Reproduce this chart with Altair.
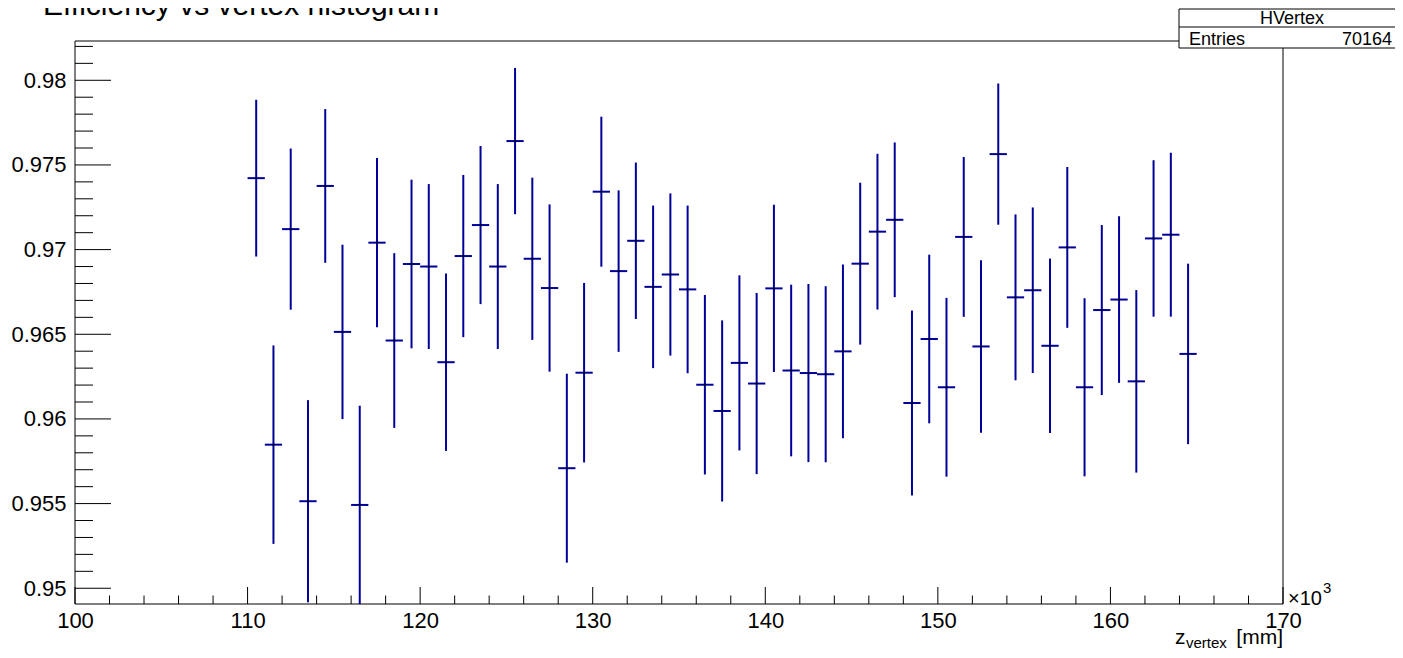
import altair as alt
import pandas as pd

# ---- data (bin centres in units of 10^3 mm) ----
bin_centers = [110.5, 111.5, 112.5, 113.5, 114.5, 115.5, 116.5, 117.5, 118.5, 119.5,
               120.5, 121.5, 122.5, 123.5, 124.5, 125.5, 126.5, 127.5, 128.5, 129.5,
               130.5, 131.5, 132.5, 133.5, 134.5, 135.5, 136.5, 137.5, 138.5, 139.5,
               140.5, 141.5, 142.5, 143.5, 144.5, 145.5, 146.5, 147.5, 148.5, 149.5,
               150.5, 151.5, 152.5, 153.5, 154.5, 155.5, 156.5, 157.5, 158.5, 159.5,
               160.5, 161.5, 162.5, 163.5, 164.5]
efficiency = [0.97422, 0.95848, 0.97121, 0.95514, 0.97376, 0.96514, 0.95492, 0.97041, 0.96463, 0.96915,
              0.96900, 0.96335, 0.96962, 0.97145, 0.96900, 0.97641, 0.96946, 0.96773, 0.95709, 0.96273,
              0.97342, 0.96873, 0.97052, 0.96780, 0.96853, 0.96765, 0.96202, 0.96047, 0.96331, 0.96209,
              0.96771, 0.96286, 0.96271, 0.96264, 0.96399, 0.96917, 0.97106, 0.97176, 0.96094, 0.96472,
              0.96187, 0.97075, 0.96428, 0.97564, 0.96718, 0.96760, 0.96432, 0.97013, 0.96187, 0.96643,
              0.96705, 0.96222, 0.97066, 0.97088, 0.96384]
error = [0.00463, 0.00586, 0.00476, 0.00597, 0.00454, 0.00515, 0.00586, 0.00500, 0.00516, 0.00498,
         0.00487, 0.00524, 0.00479, 0.00467, 0.00487, 0.00432, 0.00479, 0.00494, 0.00558, 0.00530,
         0.00443, 0.00477, 0.00462, 0.00480, 0.00479, 0.00495, 0.00530, 0.00535, 0.00517, 0.00535,
         0.00494, 0.00507, 0.00526, 0.00520, 0.00513, 0.00478, 0.00460, 0.00457, 0.00546, 0.00498,
         0.00528, 0.00472, 0.00509, 0.00417, 0.00490, 0.00489, 0.00515, 0.00475, 0.00526, 0.00502,
         0.00492, 0.00539, 0.00462, 0.00484, 0.00533]
bin_width = 1.0

x_major = [100, 110, 120, 130, 140, 150, 160, 170]
x_minor = [v for v in range(102, 170, 2) if v % 10 != 0]
y_major = [0.95, 0.955, 0.96, 0.965, 0.97, 0.975, 0.98]
y_minor = [round(0.949 + 0.001 * i, 3) for i in range(1, 34)]
y_minor = [v for v in y_minor if round(v * 1000) % 5 != 0 and v <= 0.9823]

title_text = ["Efficiency vs vertex histogram"]
stats_name = ["HVertex"]
stats_label = ["Entries"]
stats_value = ["70164"]
axis_title_main = ["z"]
axis_title_sub = ["vertex"]
axis_title_unit = ["[mm]"]
exp_base = ["\u00d710"]
exp_power = ["3"]

# ---- layout ----
W, H = 1208, 563
FONT = "Liberation Sans"
BLUE = "#000099"

df = pd.DataFrame({"z": bin_centers, "eff": efficiency, "err": error})
df["lo"] = df["eff"] - df["err"]
df["hi"] = df["eff"] + df["err"]
df["zlo"] = df["z"] - bin_width / 2
df["zhi"] = df["z"] + bin_width / 2

XS = alt.Scale(domain=[100, 170], nice=False, zero=False)
YS = alt.Scale(domain=[0.94907, 0.98232], nice=False, zero=False)

x_axis = alt.Axis(values=x_major, format="d", ticks=False, domain=False, grid=False,
                  labelFontSize=22, labelFont=FONT, labelColor="black", labelPadding=6,
                  labelFlush=False, labelOverlap=False, title=None)
y_axis = alt.Axis(values=y_major, format=".3~f", ticks=False, domain=False, grid=False,
                  labelFontSize=22, labelFont=FONT, labelColor="black", labelPadding=9,
                  labelOverlap=False, title=None)

one = pd.DataFrame({"a": [0]})

frame = alt.Chart(one).mark_rect(fillOpacity=0, stroke="black", strokeWidth=1).encode(
    x=alt.value(0), x2=alt.value(W), y=alt.value(0), y2=alt.value(H))

yt_major = alt.Chart(pd.DataFrame({"v": y_major})).mark_rule(color="black", strokeWidth=1).encode(
    y=alt.Y("v:Q", scale=YS, axis=y_axis), x=alt.value(0), x2=alt.value(36))
yt_minor = alt.Chart(pd.DataFrame({"v": y_minor})).mark_rule(color="black", strokeWidth=1).encode(
    y=alt.Y("v:Q", scale=YS, axis=y_axis), x=alt.value(0), x2=alt.value(18))
xt_major = alt.Chart(pd.DataFrame({"v": x_major})).mark_rule(color="black", strokeWidth=1).encode(
    x=alt.X("v:Q", scale=XS, axis=x_axis), y=alt.value(H), y2=alt.value(H - 17))
xt_minor = alt.Chart(pd.DataFrame({"v": x_minor})).mark_rule(color="black", strokeWidth=1).encode(
    x=alt.X("v:Q", scale=XS, axis=x_axis), y=alt.value(H), y2=alt.value(H - 8.5))

err_v = alt.Chart(df).mark_rule(clip=True, color=BLUE, strokeWidth=2).encode(
    x=alt.X("z:Q", scale=XS, axis=x_axis),
    y=alt.Y("lo:Q", scale=YS, axis=y_axis), y2="hi:Q")
err_h = alt.Chart(df).mark_rule(clip=True, color=BLUE, strokeWidth=2).encode(
    x=alt.X("zlo:Q", scale=XS, axis=x_axis), x2="zhi:Q",
    y=alt.Y("eff:Q", scale=YS, axis=y_axis))
dots = alt.Chart(df).mark_square(size=3, color="black", opacity=1).encode(
    x=alt.X("z:Q", scale=XS, axis=x_axis), y=alt.Y("eff:Q", scale=YS, axis=y_axis))

stats_box = alt.Chart(one).mark_rect(fill="white", stroke="black", strokeWidth=1).encode(
    x=alt.value(1104), x2=alt.value(1400), y=alt.value(-32), y2=alt.value(7))
stats_sep = alt.Chart(one).mark_rule(color="black", strokeWidth=1).encode(
    x=alt.value(1104), x2=alt.value(1400), y=alt.value(-14))


def label(values, x, y, size, align="left"):
    return alt.Chart(pd.DataFrame({"t": values})).mark_text(
        font=FONT, fontSize=size, color="black", align=align, baseline="alphabetic").encode(
        x=alt.value(x), y=alt.value(y), text="t:N")


texts = [
    label(title_text, -32, -26, 30),
    label(stats_name, 1217, -17, 18, "center"),
    label(stats_label, 1114, 4, 18),
    label(stats_value, 1317, 4, 18, "right"),
    label(axis_title_main, 1100, 603, 21),
    label(axis_title_sub, 1111, 607, 15),
    label(axis_title_unit, 1208, 603, 21, "right"),
    label(exp_base, 1213, 564, 20),
    label(exp_power, 1248, 552, 15),
]

chart = alt.layer(
    frame, yt_major, yt_minor, xt_major, xt_minor, err_v, err_h, dots,
    stats_box, stats_sep, *texts
).properties(
    width=W, height=H,
    padding={"left": 67, "top": 33, "right": 112, "bottom": 46},
    autosize=alt.AutoSizeParams(type="none"),
    background="white",
).configure_view(stroke=None)

chart.save("out.html", embed_options={"renderer": "svg", "actions": False})
